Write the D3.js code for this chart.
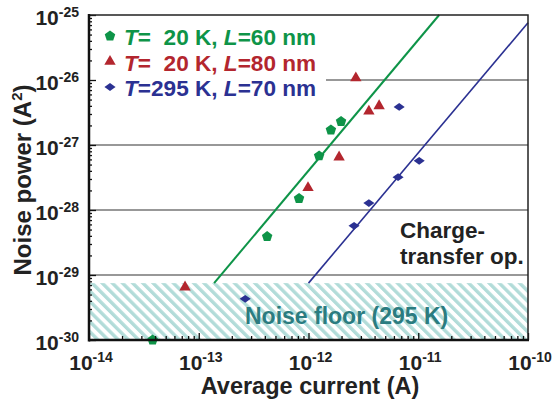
<!DOCTYPE html>
<html>
<head>
<meta charset="utf-8">
<script src="https://cdn.jsdelivr.net/npm/d3@7"></script>
<style>
  body { margin: 0; background: #fff; }
  svg text { font-family: "Liberation Sans", Arial, sans-serif; font-weight: bold; }
</style>
</head>
<body>
<svg id="chart" width="555" height="401"></svg>
<script>
// values
var green20K = [ // T = 20 K, L = 60 nm  [current A, noise A^2]
  [3.8e-14, 1.0e-30], [4.2e-13, 3.9e-29], [8.2e-13, 1.5e-28],
  [1.25e-12, 6.8e-28], [1.6e-12, 1.7e-27], [1.98e-12, 2.3e-27]
]
var red20K = [ // T = 20 K, L = 80 nm
  [7.5e-14, 6.5e-30], [9.9e-13, 2.2e-28], [1.9e-12, 6.5e-28],
  [2.7e-12, 1.07e-26], [3.55e-12, 3.3e-27], [4.4e-12, 4.0e-27]
]
var blue295K = [ // T = 295 K, L = 70 nm
  [2.65e-13, 4.3e-30], [2.6e-12, 5.7e-29], [3.55e-12, 1.28e-28],
  [6.55e-12, 3.2e-28], [1.02e-11, 5.7e-28], [6.7e-12, 3.85e-27]
]
var greenFit = [[1.38e-13, 7.5e-30], [1.55e-11, 1.0e-25]]
var blueFit = [[1.0e-12, 7.5e-30], [1.0e-10, 7.6e-26]]
var noiseFloor = 7.5e-30

var xTicks = [1e-14, 1e-13, 1e-12, 1e-11, 1e-10]
var xTickExp = ["-14", "-13", "-12", "-11", "-10"]
var yTicks = [1e-30, 1e-29, 1e-28, 1e-27, 1e-26, 1e-25]
var yTickExp = ["-30", "-29", "-28", "-27", "-26", "-25"]

var legendRows = [
  {color: "#0e9448", shape: "pent", t: "=\u00a0\u00a020 K, ", l: "=60 nm"},
  {color: "#b3262e", shape: "tri", t: "=\u00a0\u00a020 K, ", l: "=80 nm"},
  {color: "#2b3192", shape: "dia", t: "=295 K, ", l: "=70 nm"}
]

;(function(){
  var svg = d3.select("#chart")
  var pl = 89, pr = 528, pt = 15, pb = 340

  var x = d3.scaleLog().domain([1e-14, 1e-10]).range([pl, pr])
  var y = d3.scaleLog().domain([1e-30, 1e-25]).range([pb, pt])

  var defs = svg.append("defs")
  var pat = defs.append("pattern").attr("id", "hatch")
    .attr("patternUnits", "userSpaceOnUse")
    .attr("width", 7.2).attr("height", 7.2)
    .attr("patternTransform", "rotate(-45)")
  pat.append("rect").attr("width", 3.4).attr("height", 7.2).attr("fill", "#b2dcd9")

  // noise floor hatch
  svg.append("rect")
    .attr("x", pl).attr("y", y(noiseFloor))
    .attr("width", pr - pl).attr("height", pb - y(noiseFloor))
    .attr("fill", "url(#hatch)")

  // grid
  svg.append("g").selectAll("line")
    .data(yTicks.slice(1, 5)).enter().append("line")
    .attr("x1", pl).attr("x2", pr)
    .attr("y1", d => y(d)).attr("y2", d => y(d))
    .attr("stroke", "#333").attr("stroke-width", 1.2)

  // legend background hides the grid
  svg.append("rect").attr("x", pl + 1).attr("y", pt + 1)
    .attr("width", 236).attr("height", 90).attr("fill", "#fff")

  // fit lines
  var line = d3.line().x(d => x(d[0])).y(d => y(d[1]))
  svg.append("path").attr("d", line(greenFit))
    .attr("stroke", "#0e9448").attr("stroke-width", 2).attr("fill", "none")
  svg.append("path").attr("d", line(blueFit))
    .attr("stroke", "#2b3192").attr("stroke-width", 1.6).attr("fill", "none")

  // markers
  var pentagon = {draw: function(ctx, size) {
    var r = Math.sqrt(size / 2.38)
    for (var i = 0; i < 5; i++) {
      var a = -Math.PI / 2 + i * 2 * Math.PI / 5
      if (i === 0) ctx.moveTo(r * Math.cos(a), r * Math.sin(a))
      else ctx.lineTo(r * Math.cos(a), r * Math.sin(a))
    }
    ctx.closePath()
  }}
  var diamond = {draw: function(ctx, size) {
    var w = Math.sqrt(size) * 0.62, h = w * 0.7
    ctx.moveTo(-w, 0); ctx.lineTo(0, -h); ctx.lineTo(w, 0); ctx.lineTo(0, h); ctx.closePath()
  }}
  var shapes = {
    pent: d3.symbol().type(pentagon).size(72),
    tri: d3.symbol().type(d3.symbolTriangle).size(56),
    dia: d3.symbol().type(diamond).size(80)
  }

  function drawSeries(data, color, shape) {
    svg.append("g").selectAll("path")
      .data(data).enter().append("path")
      .attr("d", shapes[shape])
      .attr("transform", d => "translate(" + x(d[0]) + "," + y(d[1]) + ")")
      .attr("fill", color)
  }
  drawSeries(green20K, "#0e9448", "pent")
  drawSeries(red20K, "#b3262e", "tri")
  drawSeries(blue295K, "#2b3192", "dia")

  // axes ticks (inward)
  function minors(lo, hi) {
    var out = []
    for (var e = lo; e < hi; e++)
      for (var m = 2; m <= 9; m++) out.push(m * Math.pow(10, e))
    return out
  }
  svg.append("g").attr("transform", "translate(0," + pb + ")")
    .call(d3.axisBottom(x).tickValues(minors(-14, -10)).tickSize(-4).tickFormat(""))
  svg.append("g").attr("transform", "translate(0," + pb + ")")
    .call(d3.axisBottom(x).tickValues(xTicks).tickSize(-7).tickFormat(""))
  svg.append("g").attr("transform", "translate(" + pl + ",0)")
    .call(d3.axisLeft(y).tickValues(minors(-30, -25)).tickSize(-3).tickFormat(""))
  svg.append("g").attr("transform", "translate(" + pl + ",0)")
    .call(d3.axisLeft(y).tickValues(yTicks).tickSize(-7).tickFormat(""))
  svg.selectAll(".domain").remove()
  svg.selectAll(".tick line").attr("stroke", "#111").attr("stroke-width", 1.3)

  // frame
  svg.append("rect").attr("x", pl).attr("y", pt)
    .attr("width", pr - pl).attr("height", pb - pt)
    .attr("fill", "none").attr("stroke", "#222").attr("stroke-width", 1.5)
  svg.append("line").attr("x1", pl).attr("x2", pl).attr("y1", pt - 1).attr("y2", pb + 1.5)
    .attr("stroke", "#111").attr("stroke-width", 2.5)
  svg.append("line").attr("x1", pl).attr("x2", pr + 1).attr("y1", pb).attr("y2", pb)
    .attr("stroke", "#111").attr("stroke-width", 2.5)

  // tick labels
  var xl = svg.append("g").selectAll("text").data(xTicks).enter().append("text")
    .attr("x", d => x(d) + 2).attr("y", 370)
    .attr("text-anchor", "middle").attr("fill", "#222").attr("font-size", 21)
  xl.append("tspan").text("10")
  xl.append("tspan").attr("dy", -8).attr("font-size", 14).text((d, i) => xTickExp[i])

  var yl = svg.append("g").selectAll("text").data(yTicks).enter().append("text")
    .attr("x", 79).attr("y", d => y(d) + 10)
    .attr("text-anchor", "end").attr("fill", "#222").attr("font-size", 21)
  yl.append("tspan").text("10")
  yl.append("tspan").attr("dy", -8).attr("font-size", 14).text((d, i) => yTickExp[i])

  // axis titles
  svg.append("text").attr("x", 310).attr("y", 394).attr("text-anchor", "middle")
    .attr("font-size", 23.5).attr("fill", "#222").text("Average current (A)")
  var yt = svg.append("text").attr("transform", "translate(31,180) rotate(-90)")
    .attr("text-anchor", "middle").attr("font-size", 24).attr("fill", "#222")
  yt.append("tspan").text("Noise power (A")
  yt.append("tspan").attr("font-size", 15).attr("dy", -9).text("2")
  yt.append("tspan").attr("dy", 9).text(")")

  // legend
  legendRows.forEach(function(r, i) {
    var cy = 36 + i * 25.5
    svg.append("path").attr("d", shapes[r.shape])
      .attr("transform", "translate(110," + cy + ")").attr("fill", r.color)
    var t = svg.append("text").attr("x", 124).attr("y", cy + 9)
      .attr("font-size", 22.6).attr("fill", r.color)
    t.append("tspan").attr("font-style", "italic").text("T")
    t.append("tspan").text(r.t)
    t.append("tspan").attr("font-style", "italic").text("L")
    t.append("tspan").text(r.l)
  })

  // annotations
  svg.append("text").attr("x", 400).attr("y", 238).attr("font-size", 22.5).attr("fill", "#222").text("Charge-")
  svg.append("text").attr("x", 400).attr("y", 264).attr("font-size", 22.5).attr("fill", "#222").text("transfer op.")
  svg.append("text").attr("x", 245).attr("y", 324).attr("font-size", 23).attr("fill", "#2b7c80").text("Noise floor (295 K)")
})()
</script>
</body>
</html>
